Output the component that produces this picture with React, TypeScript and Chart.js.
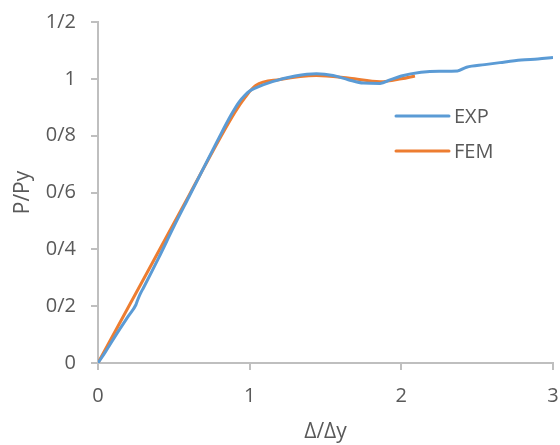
import React, { useEffect, useRef } from "react";
import { Chart, registerables } from "chart.js";

Chart.register(...registerables);

const expX = [0, 0.05, 0.12, 0.2, 0.25, 0.26, 0.28, 0.3, 0.4, 0.5, 0.6, 0.7, 0.8, 0.88, 0.93, 0.97, 1.0, 1.04, 1.15, 1.3, 1.44, 1.55, 1.65, 1.75, 1.86, 1.93, 2.0, 2.13, 2.25, 2.37, 2.43, 2.55, 2.65, 2.79, 2.9, 3.0];
const expY = [0, 0.04, 0.1, 0.165, 0.205, 0.22, 0.245, 0.265, 0.37, 0.48, 0.585, 0.69, 0.795, 0.875, 0.918, 0.943, 0.957, 0.968, 0.99, 1.01, 1.018, 1.012, 0.997, 0.985, 0.984, 0.997, 1.01, 1.023, 1.027, 1.028, 1.041, 1.05, 1.057, 1.066, 1.07, 1.075];

const femX = [0, 0.3, 0.6, 0.9, 0.97, 1.04, 1.2, 1.44, 1.66, 1.86, 2.0, 2.09];
const femY = [0, 0.295, 0.59, 0.88, 0.935, 0.977, 0.998, 1.012, 1.002, 0.99, 1.0, 1.01];

const seriesNames = ["EXP", "FEM"];
const xTicks = [0, 1, 2, 3];
const yTickValues = [0, 0.2, 0.4, 0.6, 0.8, 1, 1.2];
const yTickLabels = ["0", "0/2", "0/4", "0/6", "0/8", "1", "1/2"];
const xTitle = "Δ/Δy";
const yTitle = "P/Py";

const FONT = "'Open Sans', 'Noto Sans', sans-serif";
const TEXT = "#595959";
const AXIS = "#BFBFBF";
const COLORS = ["#5B9BD5", "#ED7D31"];

const legendPlugin = {
  id: "customLegend",
  afterDatasetsDraw(chart: any) {
    const ctx = chart.ctx;
    const area = chart.chartArea;
    ctx.save();
    chart.data.datasets.forEach((ds: any, i: number) => {
      const y = area.top + 94 + i * 35;
      const x0 = area.left + 298;
      ctx.strokeStyle = ds.borderColor;
      ctx.lineWidth = 3;
      ctx.lineCap = "round";
      ctx.beginPath();
      ctx.moveTo(x0, y);
      ctx.lineTo(x0 + 53, y);
      ctx.stroke();
      ctx.fillStyle = TEXT;
      ctx.font = `20px ${FONT}`;
      ctx.textAlign = "left";
      ctx.textBaseline = "middle";
      ctx.fillText(ds.label, x0 + 58, y + 1);
    });
    ctx.restore();
  },
};

export default function App() {
  const ref = useRef<HTMLCanvasElement>(null);
  useEffect(() => {
    if (!ref.current) return;
    const chart = new Chart(ref.current, {
      type: "line",
      data: {
        datasets: [
          {
            label: seriesNames[0],
            data: expX.map((x, i) => ({ x, y: expY[i] })),
            borderColor: COLORS[0],
            backgroundColor: COLORS[0],
            borderWidth: 3,
            pointRadius: 0,
            cubicInterpolationMode: "monotone",
          },
          {
            label: seriesNames[1],
            data: femX.map((x, i) => ({ x, y: femY[i] })),
            borderColor: COLORS[1],
            backgroundColor: COLORS[1],
            borderWidth: 3,
            pointRadius: 0,
            cubicInterpolationMode: "monotone",
          },
        ],
      },
      options: {
        responsive: false,
        animation: false,
        layout: { padding: { top: 22, right: 7, left: 0, bottom: 0 } },
        plugins: { legend: { display: false }, tooltip: { enabled: false } },
        scales: {
          x: {
            type: "linear",
            min: 0,
            max: 3,
            afterBuildTicks: (s: any) => {
              s.ticks = xTicks.map((v) => ({ value: v }));
            },
            afterFit: (s: any) => {
              s.height = 82;
              s.paddingLeft = 0;
              s.paddingRight = 0;
            },
            ticks: {
              color: TEXT,
              font: { family: FONT, size: 20 },
              padding: 14,
              maxRotation: 0,
              callback: (v: any) => String(v),
            },
            grid: {
              drawOnChartArea: false,
              drawTicks: true,
              tickLength: 7,
              color: AXIS,
              lineWidth: 2,
            },
            border: { display: true, color: AXIS, width: 2 },
            title: {
              display: true,
              text: xTitle,
              color: TEXT,
              font: { family: FONT, size: 21 },
              padding: { top: 0, bottom: 0 },
            },
          },
          y: {
            type: "linear",
            min: 0,
            max: 1.2,
            afterBuildTicks: (s: any) => {
              s.ticks = yTickValues.map((v) => ({ value: v }));
            },
            afterFit: (s: any) => {
              s.width = 98;
              s.paddingTop = 0;
              s.paddingBottom = 0;
            },
            ticks: {
              color: TEXT,
              font: { family: FONT, size: 20 },
              padding: 15,
              callback: (v: any) => {
                const idx = yTickValues.findIndex((t) => Math.abs(t - v) < 1e-6);
                return idx >= 0 ? yTickLabels[idx] : "";
              },
            },
            grid: {
              drawOnChartArea: false,
              drawTicks: true,
              tickLength: 7,
              color: AXIS,
              lineWidth: 2,
            },
            border: { display: true, color: AXIS, width: 2 },
            title: {
              display: true,
              text: yTitle,
              color: TEXT,
              font: { family: FONT, size: 21 },
              padding: { top: 10, bottom: 0 },
            },
          },
        },
      },
      plugins: [legendPlugin],
    } as any);
    return () => chart.destroy();
  }, []);
  return (
    <div style={{ position: "absolute", left: 0, top: 0, width: 560, height: 445 }}>
      <canvas ref={ref} width={560} height={445} style={{ width: 560, height: 445 }} />
    </div>
  );
}
